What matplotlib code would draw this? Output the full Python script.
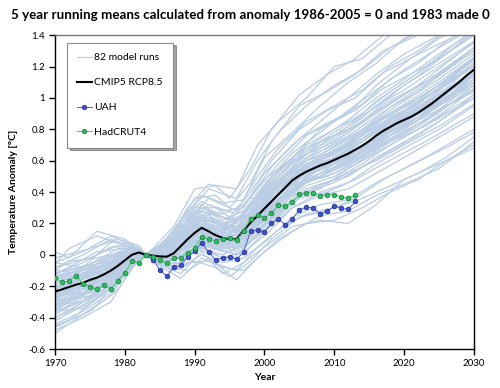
import matplotlib
matplotlib.use('Agg')
import matplotlib.pyplot as plt
from matplotlib.lines import Line2D
from matplotlib.ticker import FuncFormatter, MultipleLocator

plt.rcParams['font.family'] = ['Lato', 'DejaVu Sans']

title = "5 year running means calculated from anomaly 1986-2005 = 0 and 1983 made 0"

# CMIP5 RCP8.5 multi-model mean, 1970-2030
mean_years = list(range(1970, 2031))
cmip5_mean = [
    -0.234, -0.22, -0.205, -0.19, -0.178, -0.16, -0.145, -0.125, -0.10, -0.07,
    -0.035, 0.0, 0.015, 0.0, -0.005, -0.01, -0.012, 0.01, 0.055, 0.10,
    0.14, 0.172, 0.15, 0.125, 0.108, 0.10, 0.10, 0.155, 0.205, 0.25,
    0.295, 0.34, 0.385, 0.43, 0.475, 0.505, 0.53, 0.55, 0.57, 0.585,
    0.605, 0.625, 0.645, 0.67, 0.695, 0.725, 0.76, 0.79, 0.815, 0.84,
    0.86, 0.88, 0.905, 0.935, 0.965, 1.0, 1.035, 1.07, 1.105, 1.145,
    1.18,
]

# UAH, 1983-2013
uah_years = list(range(1983, 2014))
uah = [
    0.0, -0.03, -0.094, -0.136, -0.079, -0.067, -0.013, 0.024, 0.078, 0.017,
    -0.032, -0.02, -0.013, -0.028, 0.017, 0.15, 0.16, 0.145, 0.20, 0.23,
    0.19, 0.23, 0.287, 0.303, 0.299, 0.26, 0.28, 0.31, 0.297, 0.29,
    0.34,
]

# HadCRUT4, 1970-2013
had_years = list(range(1970, 2014))
hadcrut4 = [
    -0.149, -0.172, -0.168, -0.134, -0.183, -0.204, -0.219, -0.194, -0.219, -0.164,
    -0.117, -0.04, -0.049, 0.0, -0.013, -0.034, -0.053, -0.022, -0.017, 0.014,
    0.045, 0.113, 0.10, 0.091, 0.104, 0.108, 0.093, 0.153, 0.23, 0.253,
    0.236, 0.266, 0.315, 0.31, 0.334, 0.386, 0.396, 0.392, 0.375, 0.384,
    0.384, 0.367, 0.362, 0.381,
]

# individual model runs (estimated from the spread in the picture),
# three groups sampled at different years
run_years_a = [1970, 1974, 1978, 1981, 1983, 1985, 1988, 1991, 1994, 1997,
               2000, 2004, 2008, 2012, 2016, 2020, 2025, 2030]
model_runs_a = [
    [-0.05, 0.02, 0.12, 0.06, 0, 0.05, 0.22, 0.38, 0.33, 0.35, 0.62, 0.78, 0.95, 1.10, 1.22, 1.38, 1.45, 1.55],
    [-0.48, -0.40, -0.30, -0.08, 0, -0.06, -0.12, 0.02, -0.12, -0.05, 0.05, 0.18, 0.22, 0.20, 0.32, 0.48, 0.58, 0.68],
    [-0.30, -0.22, -0.12, -0.02, 0, 0.02, 0.10, 0.22, 0.15, 0.20, 0.35, 0.52, 0.60, 0.72, 0.85, 0.95, 1.08, 1.25],
    [-0.15, -0.10, -0.05, 0.03, 0, -0.03, 0.05, 0.15, 0.08, 0.12, 0.28, 0.42, 0.55, 0.62, 0.70, 0.82, 0.96, 1.12],
    [-0.22, -0.25, -0.08, 0.01, 0, 0.04, 0.12, 0.25, 0.20, 0.22, 0.40, 0.60, 0.72, 0.80, 0.95, 1.05, 1.20, 1.35],
    [-0.38, -0.28, -0.20, -0.05, 0, -0.04, 0.00, 0.10, 0.05, 0.05, 0.18, 0.35, 0.45, 0.50, 0.62, 0.72, 0.85, 1.00],
    [-0.10, -0.12, 0.00, 0.04, 0, 0.01, 0.08, 0.20, 0.12, 0.18, 0.32, 0.48, 0.62, 0.70, 0.78, 0.92, 1.05, 1.22],
    [-0.28, -0.15, -0.10, -0.01, 0, -0.02, 0.03, 0.12, 0.10, 0.14, 0.25, 0.45, 0.50, 0.60, 0.72, 0.80, 0.95, 1.08],
    [-0.20, -0.20, -0.15, 0.00, 0, 0.03, 0.15, 0.30, 0.22, 0.28, 0.45, 0.65, 0.78, 0.92, 1.05, 1.18, 1.32, 1.45],
    [-0.42, -0.32, -0.18, -0.04, 0, -0.05, -0.05, 0.05, -0.02, 0.02, 0.12, 0.30, 0.38, 0.42, 0.52, 0.62, 0.75, 0.88],
    [-0.12, -0.05, 0.05, 0.05, 0, 0.03, 0.14, 0.26, 0.18, 0.16, 0.38, 0.55, 0.68, 0.78, 0.92, 1.02, 1.15, 1.32],
    [-0.25, -0.18, -0.12, -0.03, 0, 0.00, 0.06, 0.16, 0.12, 0.18, 0.30, 0.48, 0.58, 0.66, 0.78, 0.90, 1.02, 1.18],
    [-0.32, -0.30, -0.14, 0.02, 0, -0.02, 0.02, 0.18, 0.06, 0.10, 0.22, 0.40, 0.52, 0.58, 0.68, 0.78, 0.92, 1.05],
    [-0.18, -0.12, -0.06, 0.02, 0, 0.02, 0.08, 0.14, 0.10, 0.20, 0.34, 0.50, 0.64, 0.74, 0.86, 0.98, 1.12, 1.28],
    [-0.05, -0.08, 0.08, 0.07, 0, 0.06, 0.20, 0.34, 0.28, 0.30, 0.52, 0.70, 0.85, 1.00, 1.15, 1.28, 1.40, 1.50],
    [-0.35, -0.25, -0.16, -0.03, 0, -0.03, 0.02, 0.08, 0.04, 0.08, 0.20, 0.38, 0.42, 0.55, 0.65, 0.75, 0.88, 1.02],
    [-0.26, -0.20, -0.09, 0.00, 0, 0.01, 0.07, 0.19, 0.14, 0.15, 0.28, 0.50, 0.56, 0.68, 0.80, 0.88, 1.00, 1.15],
    [-0.45, -0.38, -0.26, -0.06, 0, -0.07, -0.15, -0.02, -0.08, -0.10, 0.02, 0.15, 0.25, 0.28, 0.38, 0.45, 0.55, 0.72],
    [-0.14, -0.16, -0.02, 0.03, 0, 0.02, 0.10, 0.24, 0.18, 0.25, 0.42, 0.58, 0.70, 0.82, 0.98, 1.10, 1.25, 1.40],
    [-0.30, -0.26, -0.16, -0.02, 0, -0.01, 0.04, 0.14, 0.08, 0.12, 0.26, 0.44, 0.52, 0.64, 0.74, 0.84, 0.98, 1.12],
    [-0.22, -0.14, -0.08, 0.01, 0, 0.04, 0.12, 0.20, 0.16, 0.24, 0.36, 0.54, 0.66, 0.76, 0.88, 1.00, 1.14, 1.30],
    [-0.36, -0.34, -0.22, -0.04, 0, -0.02, 0.00, 0.06, 0.02, 0.00, 0.15, 0.30, 0.40, 0.46, 0.58, 0.68, 0.80, 0.95],
    [-0.08, 0.00, 0.10, 0.05, 0, 0.05, 0.18, 0.30, 0.26, 0.32, 0.48, 0.62, 0.80, 0.90, 1.08, 1.22, 1.38, 1.48],
    [-0.20, -0.22, -0.10, 0.00, 0, 0.00, 0.05, 0.12, 0.14, 0.16, 0.30, 0.46, 0.60, 0.70, 0.82, 0.92, 1.06, 1.22],
    [-0.28, -0.20, -0.14, -0.02, 0, 0.01, 0.09, 0.22, 0.10, 0.14, 0.32, 0.52, 0.62, 0.72, 0.84, 0.96, 1.10, 1.26],
    [-0.40, -0.30, -0.22, -0.05, 0, -0.04, -0.02, 0.04, 0.00, 0.06, 0.16, 0.34, 0.44, 0.52, 0.60, 0.70, 0.82, 0.96],
    [-0.16, -0.08, -0.04, 0.02, 0, 0.03, 0.12, 0.28, 0.20, 0.26, 0.44, 0.62, 0.74, 0.86, 1.00, 1.12, 1.28, 1.42],
    [-0.24, -0.24, -0.12, -0.01, 0, -0.02, 0.04, 0.16, 0.10, 0.10, 0.24, 0.42, 0.56, 0.60, 0.74, 0.86, 1.00, 1.14],
    [-0.33, -0.22, -0.18, -0.02, 0, 0.02, 0.06, 0.10, 0.06, 0.14, 0.28, 0.44, 0.50, 0.62, 0.76, 0.86, 0.96, 1.10],
    [-0.12, -0.14, -0.04, 0.04, 0, 0.04, 0.16, 0.32, 0.24, 0.22, 0.40, 0.56, 0.72, 0.84, 0.94, 1.08, 1.22, 1.36],
    [-0.27, -0.18, -0.06, 0.01, 0, -0.01, 0.06, 0.18, 0.16, 0.20, 0.34, 0.50, 0.60, 0.70, 0.84, 0.94, 1.08, 1.20],
    [-0.44, -0.36, -0.24, -0.06, 0, -0.05, -0.08, 0.00, -0.05, -0.02, 0.08, 0.24, 0.32, 0.35, 0.46, 0.55, 0.66, 0.78],
]

run_years_b = [1970, 1972, 1976, 1980, 1983, 1986, 1989, 1992, 1996, 1999,
               2002, 2006, 2010, 2014, 2018, 2022, 2026, 2030]
model_runs_b = [
    [0.02, -0.02, 0.15, 0.10, 0, 0.08, 0.30, 0.45, 0.42, 0.70, 0.85, 1.00, 1.20, 1.25, 1.40, 1.50, 1.55, 1.60],
    [-0.30, -0.26, -0.18, -0.04, 0, -0.02, 0.08, 0.12, 0.06, 0.22, 0.36, 0.48, 0.56, 0.66, 0.78, 0.88, 1.00, 1.15],
    [-0.18, -0.15, -0.08, 0.00, 0, 0.02, 0.14, 0.20, 0.14, 0.30, 0.44, 0.60, 0.66, 0.76, 0.90, 0.98, 1.12, 1.26],
    [-0.40, -0.36, -0.24, -0.06, 0, -0.05, 0.02, 0.06, 0.00, 0.14, 0.28, 0.40, 0.46, 0.56, 0.66, 0.76, 0.88, 1.02],
    [-0.22, -0.18, -0.12, -0.02, 0, 0.01, 0.12, 0.18, 0.12, 0.26, 0.40, 0.56, 0.62, 0.72, 0.84, 0.94, 1.06, 1.22],
    [-0.10, -0.04, -0.02, 0.02, 0, 0.04, 0.18, 0.28, 0.20, 0.36, 0.50, 0.68, 0.76, 0.88, 1.02, 1.14, 1.28, 1.42],
    [-0.34, -0.28, -0.20, -0.05, 0, -0.03, 0.05, 0.10, 0.04, 0.18, 0.30, 0.46, 0.52, 0.62, 0.74, 0.82, 0.96, 1.10],
    [-0.26, -0.22, -0.14, -0.03, 0, 0.00, 0.10, 0.16, 0.10, 0.24, 0.38, 0.52, 0.60, 0.70, 0.82, 0.92, 1.04, 1.18],
    [-0.15, -0.10, -0.06, 0.01, 0, 0.03, 0.16, 0.24, 0.18, 0.32, 0.46, 0.62, 0.70, 0.80, 0.94, 1.04, 1.18, 1.32],
    [-0.46, -0.42, -0.28, -0.07, 0, -0.06, -0.05, -0.04, -0.10, 0.05, 0.16, 0.26, 0.30, 0.36, 0.44, 0.52, 0.62, 0.75],
    [-0.20, -0.12, -0.04, 0.03, 0, 0.05, 0.22, 0.36, 0.28, 0.50, 0.68, 0.85, 0.95, 1.05, 1.20, 1.30, 1.42, 1.50],
    [-0.28, -0.24, -0.16, -0.03, 0, -0.01, 0.08, 0.14, 0.08, 0.20, 0.34, 0.50, 0.58, 0.68, 0.80, 0.90, 1.02, 1.16],
    [-0.12, -0.08, 0.02, 0.04, 0, 0.03, 0.20, 0.32, 0.26, 0.42, 0.58, 0.76, 0.86, 0.96, 1.12, 1.22, 1.36, 1.46],
    [-0.36, -0.30, -0.22, -0.05, 0, -0.04, 0.00, 0.08, 0.02, 0.16, 0.26, 0.42, 0.48, 0.58, 0.70, 0.80, 0.92, 1.06],
    [-0.24, -0.20, -0.10, -0.01, 0, 0.02, 0.12, 0.22, 0.16, 0.28, 0.42, 0.58, 0.64, 0.74, 0.88, 0.96, 1.10, 1.24],
    [-0.32, -0.26, -0.18, -0.04, 0, -0.02, 0.06, 0.12, 0.06, 0.20, 0.32, 0.46, 0.54, 0.64, 0.76, 0.86, 0.98, 1.12],
    [-0.16, -0.14, -0.06, 0.02, 0, 0.02, 0.14, 0.22, 0.16, 0.34, 0.48, 0.64, 0.72, 0.84, 0.96, 1.08, 1.22, 1.36],
    [-0.50, -0.44, -0.32, -0.08, 0, -0.08, -0.10, -0.02, -0.16, -0.02, 0.10, 0.20, 0.22, 0.30, 0.40, 0.48, 0.60, 0.70],
    [-0.22, -0.16, -0.10, -0.01, 0, 0.01, 0.10, 0.20, 0.14, 0.26, 0.40, 0.54, 0.62, 0.72, 0.86, 0.94, 1.08, 1.20],
    [-0.06, 0.04, 0.12, 0.06, 0, 0.06, 0.26, 0.42, 0.36, 0.60, 0.78, 0.95, 1.08, 1.18, 1.32, 1.42, 1.50, 1.58],
    [-0.30, -0.22, -0.16, -0.03, 0, -0.01, 0.06, 0.14, 0.08, 0.22, 0.34, 0.48, 0.56, 0.66, 0.78, 0.86, 1.00, 1.14],
    [-0.20, -0.18, -0.08, 0.00, 0, 0.02, 0.12, 0.18, 0.12, 0.28, 0.42, 0.56, 0.64, 0.74, 0.86, 0.96, 1.10, 1.26],
    [-0.38, -0.32, -0.20, -0.05, 0, -0.04, 0.02, 0.10, 0.04, 0.16, 0.28, 0.44, 0.50, 0.60, 0.72, 0.82, 0.94, 1.08],
    [-0.14, -0.12, -0.04, 0.02, 0, 0.03, 0.16, 0.26, 0.22, 0.38, 0.52, 0.70, 0.80, 0.90, 1.04, 1.16, 1.30, 1.44],
]

run_years_c = [1970, 1975, 1979, 1982, 1983, 1984, 1987, 1990, 1993, 1995,
               1998, 2001, 2005, 2009, 2013, 2017, 2023, 2030]
model_runs_c = [
    [-0.25, -0.18, -0.06, 0.02, 0, 0.01, 0.06, 0.24, 0.20, 0.16, 0.32, 0.50, 0.66, 0.74, 0.82, 0.96, 1.10, 1.32],
    [-0.32, -0.24, -0.14, -0.01, 0, -0.02, -0.02, 0.10, 0.06, 0.04, 0.16, 0.28, 0.44, 0.52, 0.60, 0.72, 0.86, 1.06],
    [-0.14, -0.08, 0.02, 0.04, 0, 0.02, 0.10, 0.30, 0.30, 0.24, 0.40, 0.60, 0.80, 0.92, 1.00, 1.16, 1.30, 1.45],
    [-0.42, -0.30, -0.18, -0.02, 0, -0.03, -0.08, 0.04, 0.00, -0.04, 0.08, 0.20, 0.36, 0.40, 0.48, 0.58, 0.72, 0.90],
    [-0.20, -0.14, -0.04, 0.03, 0, 0.00, 0.04, 0.20, 0.16, 0.14, 0.26, 0.42, 0.58, 0.66, 0.76, 0.88, 1.02, 1.24],
    [-0.28, -0.20, -0.10, 0.01, 0, -0.01, 0.02, 0.16, 0.12, 0.10, 0.22, 0.36, 0.52, 0.60, 0.70, 0.80, 0.96, 1.16],
    [-0.08, -0.02, 0.06, 0.05, 0, 0.03, 0.14, 0.36, 0.38, 0.30, 0.46, 0.72, 0.95, 1.04, 1.15, 1.30, 1.42, 1.55],
    [-0.36, -0.28, -0.16, -0.01, 0, -0.02, 0.00, 0.08, 0.04, 0.02, 0.12, 0.30, 0.46, 0.50, 0.58, 0.70, 0.82, 1.00],
    [-0.18, -0.10, -0.02, 0.03, 0, 0.01, 0.08, 0.22, 0.22, 0.18, 0.30, 0.46, 0.62, 0.72, 0.82, 0.94, 1.10, 1.30],
    [-0.24, -0.16, -0.08, 0.02, 0, 0.00, 0.03, 0.14, 0.12, 0.08, 0.20, 0.34, 0.50, 0.56, 0.66, 0.78, 0.92, 1.12],
    [-0.30, -0.26, -0.12, 0.00, 0, -0.01, 0.01, 0.12, 0.10, 0.06, 0.18, 0.32, 0.48, 0.58, 0.64, 0.76, 0.90, 1.10],
    [-0.12, -0.06, 0.04, 0.04, 0, 0.02, 0.12, 0.28, 0.26, 0.22, 0.36, 0.56, 0.74, 0.84, 0.92, 1.06, 1.20, 1.40],
    [-0.46, -0.36, -0.22, -0.03, 0, -0.04, -0.10, -0.04, -0.08, -0.14, -0.04, 0.10, 0.24, 0.28, 0.36, 0.48, 0.62, 0.80],
    [-0.22, -0.14, -0.06, 0.02, 0, 0.01, 0.05, 0.18, 0.16, 0.12, 0.28, 0.44, 0.56, 0.64, 0.74, 0.84, 1.00, 1.20],
    [-0.02, 0.04, 0.10, 0.06, 0, 0.04, 0.18, 0.42, 0.44, 0.36, 0.55, 0.80, 1.02, 1.15, 1.25, 1.40, 1.48, 1.60],
    [-0.34, -0.22, -0.12, 0.00, 0, -0.02, -0.01, 0.10, 0.08, 0.06, 0.16, 0.30, 0.44, 0.52, 0.62, 0.74, 0.88, 1.04],
]

run_color = '#B9CDE5'
uah_face, uah_edge, uah_line = '#3F51C8', '#1E2A86', '#5060E8'
had_face, had_edge, had_line = '#2EBE5E', '#17793A', '#3CCB6C'

fig = plt.figure(figsize=(5.0, 3.88), dpi=100)
ax = fig.add_axes([0.11, 0.1005, 0.838, 0.809])

for yrs, runs in [(run_years_a, model_runs_a), (run_years_b, model_runs_b),
                  (run_years_c, model_runs_c)]:
    for run in runs:
        ax.plot(yrs, run, color=run_color, linewidth=0.9, zorder=1)

ax.plot(mean_years, cmip5_mean, color='black', linewidth=1.5, zorder=3)
ax.plot(uah_years, uah, color=uah_line, linewidth=0.7, marker='o', markersize=3.4,
        markerfacecolor=uah_face, markeredgecolor=uah_edge, markeredgewidth=0.5, zorder=4)
ax.plot(had_years, hadcrut4, color=had_line, linewidth=0.7, marker='o', markersize=3.4,
        markerfacecolor=had_face, markeredgecolor=had_edge, markeredgewidth=0.5, zorder=5)

ax.set_xlim(1970, 2030)
ax.set_ylim(-0.6, 1.4)
ax.xaxis.set_major_locator(MultipleLocator(10))
ax.yaxis.set_major_locator(MultipleLocator(0.2))
ax.yaxis.set_major_formatter(FuncFormatter(lambda v, p: f"{round(v, 1) + 0:g}"))
ax.tick_params(direction='out', length=4, width=1, labelsize=7, colors='black', pad=3)

for side in ['left', 'bottom', 'right']:
    ax.spines[side].set_color('black')
    ax.spines[side].set_linewidth(1.0)
ax.spines['top'].set_color('#777777')
ax.spines['top'].set_linewidth(1.0)

ax.set_xlabel('Year', fontsize=7.5, fontweight='bold', labelpad=4)
ax.set_ylabel('Temperature Anomaly [\u00b0C]', fontsize=7.5, fontweight='bold', labelpad=7)
fig.text(0.5, 0.962, title, ha='center', va='center', fontsize=9.6, fontweight='bold')

handles = [
    Line2D([], [], color=run_color, linewidth=0.9),
    Line2D([], [], color='black', linewidth=1.5),
    Line2D([], [], color=uah_line, linewidth=0.7, marker='o', markersize=3.2,
           markerfacecolor=uah_face, markeredgecolor=uah_edge, markeredgewidth=0.5),
    Line2D([], [], color=had_line, linewidth=0.7, marker='o', markersize=3.2,
           markerfacecolor=had_face, markeredgecolor=had_edge, markeredgewidth=0.5),
]
labels = ['82 model runs', 'CMIP5 RCP8.5', 'UAH', 'HadCRUT4']
leg = ax.legend(handles, labels, loc='upper left', bbox_to_anchor=(0.028, 0.976),
                borderaxespad=0, fontsize=7.5, handlelength=1.4, handletextpad=0.2,
                labelspacing=1.5, borderpad=1.0, fancybox=False, shadow=True,
                framealpha=1, edgecolor='#888888')
leg.get_frame().set_linewidth(0.8)

fig.savefig('out.png', dpi=100, facecolor='white')
